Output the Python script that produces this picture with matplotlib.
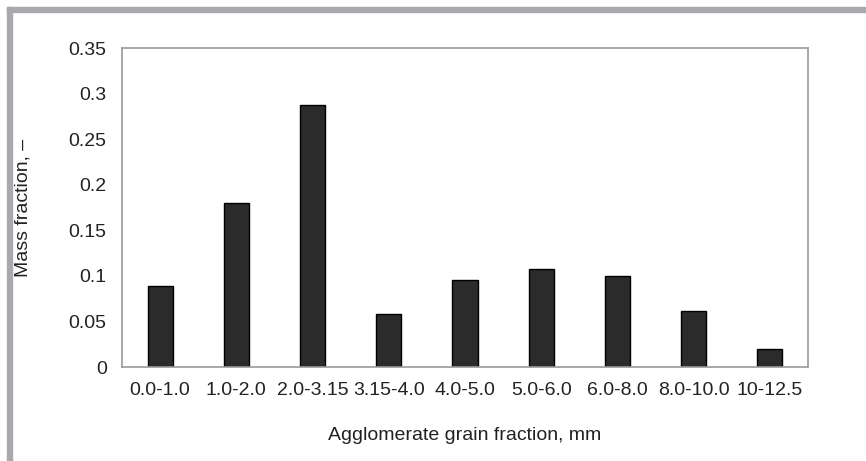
import matplotlib
matplotlib.use("Agg")
import matplotlib.pyplot as plt
from matplotlib.patches import Rectangle

categories = ["0.0-1.0", "1.0-2.0", "2.0-3.15", "3.15-4.0", "4.0-5.0",
              "5.0-6.0", "6.0-8.0", "8.0-10.0", "10-12.5"]
mass_fraction = [0.089, 0.180, 0.287, 0.058, 0.096, 0.107, 0.100, 0.061, 0.020]
yticks = [0, 0.05, 0.1, 0.15, 0.2, 0.25, 0.3, 0.35]
ytick_labels = ["0", "0.05", "0.1", "0.15", "0.2", "0.25", "0.3", "0.35"]

plt.rcParams['font.family'] = ['Liberation Sans', 'DejaVu Sans']

W, H = 866, 461
fig = plt.figure(figsize=(W / 100, H / 100), dpi=100)

# gray frame (top and left)
gray = "#a9a9ad"
fig.patches.append(Rectangle((7 / W, 1 - 12 / H), 1 - 7 / W, 5 / H,
                             transform=fig.transFigure, color=gray, zorder=0))
fig.patches.append(Rectangle((7 / W, 0), 5 / W, 1 - 7 / H,
                             transform=fig.transFigure, color=gray, zorder=0))

ax = fig.add_axes([122 / W, 1 - 367 / H, (808 - 122) / W, (367 - 48) / H])
x = list(range(len(categories)))
ax.bar(x, mass_fraction, width=0.33, color="#2b2b2b", edgecolor="black", linewidth=1)
ax.set_xlim(-0.5, len(categories) - 0.5)
ax.set_ylim(0, 0.35)
ax.set_yticks(yticks)
ax.set_yticklabels(ytick_labels)
ax.set_xticks(x)
ax.set_xticklabels(categories)
ax.tick_params(axis="both", length=0, labelsize=14, colors="#222222")
ax.tick_params(axis="x", pad=11)
ax.tick_params(axis="y", pad=11)
for s in ax.spines.values():
    s.set_color("#9a9a9a")
    s.set_linewidth(1.2)
ax.set_ylabel("Mass fraction, \u2013", fontsize=14, color="#222222", labelpad=27)
ax.set_xlabel("Agglomerate grain fraction, mm", fontsize=14, color="#222222", labelpad=20)

fig.savefig("out.png", dpi=100)
